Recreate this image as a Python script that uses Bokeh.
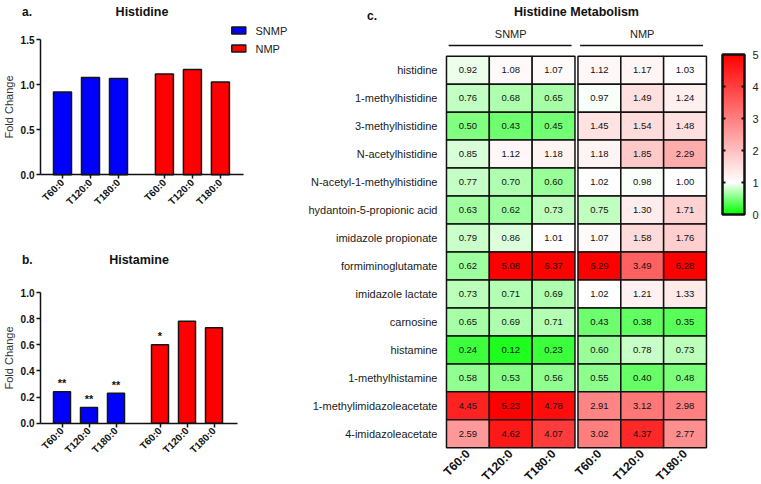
import numpy as np
from bokeh.plotting import figure
from bokeh.models import (ColumnDataSource, Range1d, FixedTicker, NumeralTickFormatter,
                          LinearAxis, LinearColorMapper)
from bokeh.layouts import row, column
from bokeh.embed import file_html
from bokeh.resources import INLINE
from bokeh.core.properties import value
from bokeh.transform import linear_cmap

FONT = "Liberation Sans"

# ---------------- data ----------------
groups = ["SNMP", "NMP"]
times = ["T60:0", "T120:0", "T180:0"]
group_colors = ["#0000ff", "#ff0000"]

histidine_fc = [0.92, 1.08, 1.07, 1.12, 1.17, 1.03]
histamine_fc = [0.24, 0.12, 0.23, 0.60, 0.78, 0.73]
histamine_sig = ["**", "**", "**", "*", "", ""]

hista_ticks = [0.0, 0.5, 1.0, 1.5]
histam_ticks = [0.0, 0.2, 0.4, 0.6, 0.8, 1.0]
scale_ticks = [0, 1, 2, 3, 4, 5]

metabolites = ["histidine", "1-methylhistidine", "3-methylhistidine", "N-acetylhistidine",
               "N-acetyl-1-methylhistidine", "hydantoin-5-propionic acid", "imidazole propionate",
               "formiminoglutamate", "imidazole lactate", "carnosine", "histamine",
               "1-methylhistamine", "1-methylimidazoleacetate", "4-imidazoleacetate"]
snmp_values = [[0.92, 1.08, 1.07], [0.76, 0.68, 0.65], [0.50, 0.43, 0.45], [0.85, 1.12, 1.18],
               [0.77, 0.70, 0.60], [0.63, 0.62, 0.73], [0.79, 0.86, 1.01], [0.62, 5.08, 6.37],
               [0.73, 0.71, 0.69], [0.65, 0.69, 0.71], [0.24, 0.12, 0.23], [0.58, 0.53, 0.56],
               [4.45, 5.23, 4.78], [2.59, 4.62, 4.07]]
nmp_values = [[1.12, 1.17, 1.03], [0.97, 1.49, 1.24], [1.45, 1.54, 1.48], [1.18, 1.85, 2.29],
              [1.02, 0.98, 1.00], [0.75, 1.30, 1.71], [1.07, 1.58, 1.76], [6.29, 3.49, 6.28],
              [1.02, 1.21, 1.33], [0.43, 0.38, 0.35], [0.60, 0.78, 0.73], [0.55, 0.40, 0.48],
              [2.91, 3.12, 2.98], [3.02, 4.37, 2.77]]


# ---------------- colour scale ----------------
def scale_color(v):
    if v <= 1:
        c = int(round(255 * v))
        return "#%02x%02x%02x" % (c, 255, c)
    t = min((v - 1) / 4.0, 1.0)
    c = int(round(255 * (1 - t)))
    return "#%02x%02x%02x" % (255, c, c)


palette = [scale_color(5 * i / 499) for i in range(500)]
tick_labels = [t for g in groups for t in times]


def positions(gap):
    return [j + gi * (len(times) + gap) for gi in range(len(groups)) for j in range(len(times))]


def axis_map(anchor_page, anchor_val, ppu, flip=False):
    # page pixel -> data value (layout helper, not data)
    if flip:
        return lambda pg: anchor_val - (pg - anchor_page) / ppu
    return lambda pg: anchor_val + (pg - anchor_page) / ppu


def new_fig(width, height, xr, yr):
    p = figure(width=width, height=height, x_range=xr, y_range=yr,
               output_backend="svg", toolbar_location=None,
               min_border_left=0, min_border_right=0, min_border_top=0, min_border_bottom=0)
    p.background_fill_color = "white"
    p.border_fill_color = "white"
    p.outline_line_color = None
    p.xgrid.visible = False
    p.ygrid.visible = False
    return p


def txt(p, x, y, s, size, bold=False, align="left", color="#111111", baseline="middle"):
    src = ColumnDataSource(dict(x=[x], y=[y], t=[s]))
    p.text(x="x", y="y", text="t", source=src, text_align=align, text_baseline=baseline,
           text_font=value(FONT), text_font_size=value(size),
           text_font_style="bold" if bold else "normal", text_color=color)


def bar_panel(tag, title, vals, ticks, width, height, page_y0, unit_px, first_px, zero_py,
              ypx, gap, bw, axis_left_px, axis_right_px, title_py, stars=None, legend=False):
    pos = positions(gap)
    fx = axis_map(first_px, 0, unit_px)
    fy = axis_map(zero_py, 0, ypx, flip=True)
    p = new_fig(width, height, Range1d(fx(0), fx(width)),
                Range1d(fy(page_y0 + height), fy(page_y0)))
    for gi, g in enumerate(groups):
        sl = slice(gi * len(times), (gi + 1) * len(times))
        src = ColumnDataSource(dict(x=pos[sl], top=vals[sl]))
        p.vbar(x="x", top="top", width=bw, bottom=0, source=src,
               fill_color=group_colors[gi], line_color="#151515", line_width=1.5)
    if stars is not None:
        ssrc = ColumnDataSource(dict(x=pos, y=[v + 0.065 * ticks[-1] for v in vals], s=stars))
        p.text(x="x", y="y", text="s", source=ssrc, text_align="center",
               text_baseline="alphabetic", text_font=value(FONT),
               text_font_size=value("11px"), text_font_style="bold", text_color="#111111")
    ya = p.yaxis[0]
    ya.fixed_location = fx(axis_left_px)
    ya.bounds = (ticks[0], ticks[-1])
    ya.ticker = FixedTicker(ticks=ticks)
    ya.formatter = NumeralTickFormatter(format="0.0")
    ya.axis_line_width = 1.5
    ya.axis_line_color = "#111111"
    ya.major_tick_line_width = 1.5
    ya.major_tick_line_color = "#111111"
    ya.major_tick_out = 4
    ya.major_tick_in = 0
    ya.minor_tick_line_color = None
    ya.major_label_standoff = 2
    ya.major_label_text_font = FONT
    ya.major_label_text_font_style = "bold"
    ya.major_label_text_font_size = "10px"
    ya.major_label_text_color = "#111111"
    ya.axis_label = "Fold Change"
    ya.axis_label_text_font = FONT
    ya.axis_label_text_font_style = "normal"
    ya.axis_label_text_font_size = "11px"
    ya.axis_label_text_color = "#333333"
    ya.axis_label_standoff = 3
    xa = p.xaxis[0]
    xa.fixed_location = 0
    xa.bounds = (fx(axis_left_px), fx(axis_right_px))
    xa.ticker = FixedTicker(ticks=pos)
    xa.major_label_overrides = {x: lab for x, lab in zip(pos, tick_labels)}
    xa.axis_line_width = 1.5
    xa.axis_line_color = "#111111"
    xa.major_tick_line_width = 1.5
    xa.major_tick_line_color = "#111111"
    xa.major_tick_out = 4
    xa.major_tick_in = 0
    xa.minor_tick_line_color = None
    xa.major_label_orientation = np.pi / 4
    xa.major_label_standoff = 2
    xa.major_label_text_font = FONT
    xa.major_label_text_font_style = "bold"
    xa.major_label_text_font_size = "10px"
    xa.major_label_text_color = "#111111"

    txt(p, fx(21.5), fy(title_py), tag, "12px", bold=True)
    txt(p, fx((axis_left_px + axis_right_px) / 2), fy(title_py), title, "12.5px", bold=True,
        align="center")
    if legend:
        for gi, g in enumerate(groups):
            py = 30 + 18 * gi
            lsrc = ColumnDataSource(dict(x=[fx(238.3)], y=[fy(py)]))
            p.rect(x="x", y="y", width=14, height=7, width_units="screen",
                   height_units="screen", source=lsrc, fill_color=group_colors[gi],
                   line_color="#151515", line_width=1.5)
            txt(p, fx(255), fy(py), g, "11px", color="#222222")
    return p


pa = bar_panel("a.", "Histidine", histidine_fc, hista_ticks, 300, 245, 0,
               28.0, 62.0, 174.3, 90.0, 0.64, 0.643, 40, 243, 11, legend=True)
pb = bar_panel("b.", "Histamine", histamine_fc, histam_ticks, 300, 238, 245,
               27.0, 61.5, 422.7, 130.7, 0.63, 0.63, 40, 237, 259, stars=histamine_sig)

# ---------------- heatmap + colour bar ----------------
HX0, HW, HH = 300, 460, 483
n = len(metabolites)
col_px = 42.83
row_px = 27.97
GP = 3.0 / col_px
hpos = positions(GP)
hfx = axis_map(467.4, 0, col_px)
hfy = axis_map(433.3, 0, row_px, flip=True)
ph = new_fig(HW, HH, Range1d(hfx(HX0), hfx(HX0 + HW)), Range1d(hfy(HH), hfy(0)))

cx, cy, cv, cl = [], [], [], []
for i, m in enumerate(metabolites):
    for gi, table in enumerate([snmp_values, nmp_values]):
        for j in range(len(times)):
            v = table[i][j]
            cx.append(hpos[gi * len(times) + j])
            cy.append(n - 1 - i)
            cv.append(v)
            cl.append("%.2f" % v)
csrc = ColumnDataSource(dict(x=cx, y=cy, v=cv, label=cl))
ph.rect(x="x", y="y", width=1, height=1, source=csrc,
        fill_color=linear_cmap("v", palette, 0, 5, high_color="#ff0000", low_color="#00ff00"),
        line_color="#111111", line_width=1.5)
ph.text(x="x", y="y", text="label", source=csrc, text_align="center", text_baseline="middle",
        text_font=value(FONT), text_font_size=value("9.5px"), text_color="#111111")

centers = [hpos[gi * len(times) + 1] for gi in range(len(groups))]
gsrc = ColumnDataSource(dict(x=centers, y=[hfy(33.5)] * 2, t=groups))
ph.text(x="x", y="y", text="t", source=gsrc, text_align="center", text_baseline="middle",
        text_font=value(FONT), text_font_size=value("11px"), text_color="#222222")
lsrc = ColumnDataSource(dict(x0=[hpos[gi * len(times)] - 0.45 for gi in range(len(groups))],
                             x1=[hpos[gi * len(times) + 2] + 0.42 for gi in range(len(groups))],
                             y=[hfy(45)] * 2))
ph.segment(x0="x0", y0="y", x1="x1", y1="y", source=lsrc, line_color="#111111", line_width=1.5)
txt(ph, (hpos[0] + hpos[-1]) / 2, hfy(11), "Histidine Metabolism", "12.5px", bold=True,
    align="center")
txt(ph, hfx(366.5), hfy(15), "c.", "12px", bold=True)

hya = ph.yaxis[0]
hya.fixed_location = -0.5
hya.ticker = FixedTicker(ticks=list(range(n)))
hya.major_label_overrides = {n - 1 - i: m for i, m in enumerate(metabolites)}
hya.axis_line_color = None
hya.major_tick_line_color = None
hya.minor_tick_line_color = None
hya.major_tick_out = 0
hya.major_tick_in = 0
hya.major_label_standoff = 9
hya.major_label_text_font = FONT
hya.major_label_text_font_size = "11px"
hya.major_label_text_color = "#1a1a1a"
hxa = ph.xaxis[0]
hxa.fixed_location = -0.5
hxa.ticker = FixedTicker(ticks=hpos)
hxa.major_label_overrides = {x: lab for x, lab in zip(hpos, tick_labels)}
hxa.axis_line_color = None
hxa.major_tick_line_color = None
hxa.minor_tick_line_color = None
hxa.major_tick_out = 0
hxa.major_tick_in = 0
hxa.major_label_orientation = np.pi / 4
hxa.major_label_standoff = 4
hxa.major_label_text_font = FONT
hxa.major_label_text_font_style = "bold"
hxa.major_label_text_font_size = "12px"
hxa.major_label_text_color = "#111111"

# colour bar drawn on its own y range (0..5)
bar_l, bar_r, bar_top, bar_bot = 722, 744, 54, 214
lo, hi = scale_ticks[0], scale_ticks[-1]
cfy = axis_map(bar_bot, lo, (bar_bot - bar_top) / (hi - lo), flip=True)
ph.extra_y_ranges = {"cbar": Range1d(cfy(HH), cfy(0))}
grad = np.linspace(lo, hi, 400).reshape(-1, 1)
ph.image(image=[grad], x=hfx(bar_l), y=lo, dw=(bar_r - bar_l) / col_px, dh=hi - lo,
         color_mapper=LinearColorMapper(palette=palette, low=lo, high=hi), y_range_name="cbar")
ph.rect(x=[hfx((bar_l + bar_r) / 2)], y=[(lo + hi) / 2], width=(bar_r - bar_l) / col_px,
        height=hi - lo, fill_color=None, line_color="#111111", line_width=2.5,
        y_range_name="cbar")
inner = scale_ticks[1:-1]
k = len(inner)
ph.segment(x0=[hfx(bar_l)] * k + [hfx(bar_r - 3)] * k, x1=[hfx(bar_l + 3)] * k + [hfx(bar_r)] * k,
           y0=inner + inner, y1=inner + inner, line_color="#111111", line_width=2,
           y_range_name="cbar")
ra = LinearAxis(y_range_name="cbar", fixed_location=hfx(bar_r),
                ticker=FixedTicker(ticks=scale_ticks), axis_line_color=None,
                major_tick_in=0, major_tick_out=0, major_tick_line_color=None,
                minor_tick_line_color=None, major_label_standoff=8,
                major_label_text_font=FONT, major_label_text_font_size="11px",
                major_label_text_color="#222222")
ph.add_layout(ra, "right")

layout = row(column(pa, pb), ph)
open("out.html", "w").write(file_html(layout, INLINE))
